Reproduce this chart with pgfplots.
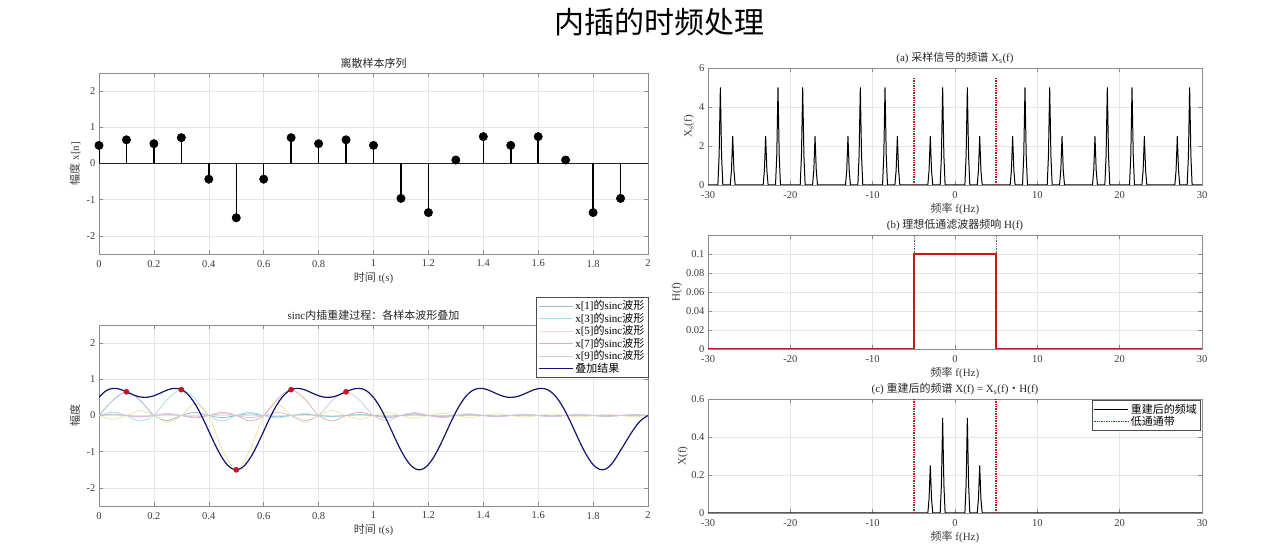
\documentclass[border=0pt]{standalone}
\usepackage{fontspec}
\setmainfont{Liberation Serif}
\newfontfamily\cjk{Noto Sans CJK SC}
\usepackage{pgfplots}
\pgfplotsset{compat=1.18}
\definecolor{axc}{RGB}{140,140,140}
\definecolor{gridc}{RGB}{230,230,230}
\definecolor{labc}{RGB}{60,60,60}
\definecolor{s1}{RGB}{160,182,204}
\definecolor{s3}{RGB}{160,226,232}
\definecolor{s5}{RGB}{240,228,166}
\definecolor{s7}{RGB}{222,176,176}
\definecolor{s9}{RGB}{214,196,230}
\definecolor{navy}{RGB}{20,20,110}
\definecolor{rdot}{RGB}{200,20,35}
\definecolor{hred}{RGB}{200,25,25}
\pgfplotsset{
  mat/.style={
    scale only axis,
    axis line style={draw=axc, line width=0.6pt},
    every tick/.style={draw=axc, line width=0.5pt},
    tick align=inside,
    major tick length=4pt,
    grid=major,
    major grid style={draw=gridc, line width=0.5pt},
    tick label style={font=\fontsize{10.5}{12}\selectfont, text=labc},
    xticklabel style={yshift=-2.5pt},
    /pgf/number format/assume math mode=true,
    title style={font=\fontsize{11}{12}\selectfont, text=black!85, at={(0.5,1)}, anchor=south, yshift=-3pt, inner sep=1pt},
    xlabel style={font=\fontsize{11}{12}\selectfont, text=labc, at={(0.5,0)}, anchor=center, yshift=-24pt},
    ylabel style={font=\fontsize{11}{12}\selectfont, text=labc, at={(0,0.5)}, anchor=center},
  },
  linelegend/.style={legend image code/.code={\draw[##1] (0pt,0pt) -- (34pt,0pt);}},
}
\begin{document}
\begin{tikzpicture}
\useasboundingbox (0,0) rectangle (1280pt,545pt);
\node at (659pt,523pt) {\cjk\fontsize{30}{32}\selectfont 内插的时频处理};

% ---------------- top-left: stem
\begin{axis}[mat, at={(99pt,291pt)}, anchor=south west, width=549pt, height=181pt,
  xmin=0, xmax=2, ymin=-2.5, ymax=2.5,
  xtick={0,0.2,0.4,0.6,0.8,1,1.2,1.4,1.6,1.8,2}, ytick={-2,-1,0,1,2},
  title={\cjk 离散样本序列},
  xlabel={{\cjk 时间} t(s)},
  ylabel={{\cjk 幅度} x[n]}, ylabel style={yshift=24pt}]
\addplot[black!85, line width=0.7pt] coordinates {(0,0)(2,0)};
\addplot[ycomb, black, line width=1.5pt, mark=*, mark size=4.2pt, mark options={fill=black, line width=0.5pt}] coordinates {
(0,0.5)(0.1,0.6545)(0.2,0.5466)(0.3,0.7135)(0.4,-0.4333)(0.5,-1.5)(0.6,-0.4333)(0.7,0.7135)(0.8,0.5466)(0.9,0.6545)
(1.0,0.5)(1.1,-0.9635)(1.2,-1.3556)(1.3,0.0955)(1.4,0.7423)(1.5,0.5)(1.6,0.7423)(1.7,0.0955)(1.8,-1.3556)(1.9,-0.9635)};
\end{axis}

% ---------------- bottom-left: sinc
\begin{axis}[mat, linelegend, at={(99pt,39pt)}, anchor=south west, width=549pt, height=181pt,
  xmin=0, xmax=2, ymin=-2.5, ymax=2.5,
  xtick={0,0.2,0.4,0.6,0.8,1,1.2,1.4,1.6,1.8,2}, ytick={-2,-1,0,1,2},
  title={sinc{\cjk 内插重建过程：各样本波形叠加}},
  xlabel={{\cjk 时间} t(s)},
  ylabel={\cjk 幅度}, ylabel style={yshift=24pt},
  legend style={at={(1,1.155)}, anchor=north east, draw=black!70, fill=white,
    font=\fontsize{11}{11}\selectfont, inner sep=1.5pt, row sep=-2.3pt, cells={anchor=west}}]
\addplot[s1, line width=0.8pt, smooth] coordinates {
(0,0)(0.05,0.4167)(0.1,0.6545)(0.15,0.4167)(0.2,0)(0.25,-0.1389)(0.3,0)(0.35,0.0833)(0.4,0)(0.45,-0.0595)(0.5,0)
(0.55,0.0463)(0.6,0)(0.65,-0.0379)(0.7,0)(0.75,0.0321)(0.8,0)(0.85,-0.0278)(0.9,0)(0.95,0.0245)(1.0,0)
(1.05,-0.0219)(1.1,0)(1.15,0.0198)(1.2,0)(1.25,-0.0181)(1.3,0)(1.35,0.0167)(1.4,0)(1.45,-0.0154)(1.5,0)
(1.55,0.0144)(1.6,0)(1.65,-0.0134)(1.7,0)(1.75,0.0126)(1.8,0)(1.85,-0.0119)(1.9,0)(1.95,0.0113)(2,0)};
\addlegendentry{x[1]{\cjk 的}sinc{\cjk 波形}}
\addplot[s3, line width=0.8pt, smooth] coordinates {
(0,0)(0.05,0.0908)(0.1,0)(0.15,-0.1514)(0.2,0)(0.25,0.4542)(0.3,0.7135)(0.35,0.4542)(0.4,0)(0.45,-0.1514)(0.5,0)
(0.55,0.0908)(0.6,0)(0.65,-0.0649)(0.7,0)(0.75,0.0504)(0.8,0)(0.85,-0.0413)(0.9,0)(0.95,0.035)(1.0,0)
(1.05,-0.0303)(1.1,0)(1.15,0.0267)(1.2,0)(1.25,-0.0239)(1.3,0)(1.35,0.0216)(1.4,0)(1.45,-0.0198)(1.5,0)
(1.55,0.0182)(1.6,0)(1.65,-0.0168)(1.7,0)(1.75,0.0157)(1.8,0)(1.85,-0.0146)(1.9,0)(1.95,0.0138)(2,0)};
\addlegendentry{x[3]{\cjk 的}sinc{\cjk 波形}}
\addplot[s5, line width=0.8pt, smooth] coordinates {
(0,0)(0.05,-0.1061)(0.1,0)(0.15,0.1364)(0.2,0)(0.25,-0.191)(0.3,0)(0.35,0.3183)(0.4,0)(0.45,-0.9549)(0.5,-1.5)
(0.55,-0.9549)(0.6,0)(0.65,0.3183)(0.7,0)(0.75,-0.191)(0.8,0)(0.85,0.1364)(0.9,0)(0.95,-0.1061)(1.0,0)
(1.05,0.0868)(1.1,0)(1.15,-0.0735)(1.2,0)(1.25,0.0636)(1.3,0)(1.35,-0.0561)(1.4,0)(1.45,0.0503)(1.5,0)
(1.55,-0.0455)(1.6,0)(1.65,0.0415)(1.7,0)(1.75,-0.0382)(1.8,0)(1.85,0.0354)(1.9,0)(1.95,-0.033)(2,0)};
\addlegendentry{x[5]{\cjk 的}sinc{\cjk 波形}}
\addplot[s7, line width=0.8pt, smooth] coordinates {
(0,0)(0.05,0.035)(0.1,0)(0.15,-0.0413)(0.2,0)(0.25,0.0504)(0.3,0)(0.35,-0.0649)(0.4,0)(0.45,0.0908)(0.5,0)
(0.55,-0.1514)(0.6,0)(0.65,0.4542)(0.7,0.7135)(0.75,0.4542)(0.8,0)(0.85,-0.1514)(0.9,0)(0.95,0.0908)(1.0,0)
(1.05,-0.0649)(1.1,0)(1.15,0.0504)(1.2,0)(1.25,-0.0413)(1.3,0)(1.35,0.035)(1.4,0)(1.45,-0.0303)(1.5,0)
(1.55,0.0267)(1.6,0)(1.65,-0.0239)(1.7,0)(1.75,0.0216)(1.8,0)(1.85,-0.0198)(1.9,0)(1.95,0.0182)(2,0)};
\addlegendentry{x[7]{\cjk 的}sinc{\cjk 波形}}
\addplot[s9, line width=0.8pt, smooth] coordinates {
(0,0)(0.05,0.0245)(0.1,0)(0.15,-0.0278)(0.2,0)(0.25,0.0321)(0.3,0)(0.35,-0.0379)(0.4,0)(0.45,0.0463)(0.5,0)
(0.55,-0.0595)(0.6,0)(0.65,0.0833)(0.7,0)(0.75,-0.1389)(0.8,0)(0.85,0.4167)(0.9,0.6545)(0.95,0.4167)(1.0,0)
(1.05,-0.1389)(1.1,0)(1.15,0.0833)(1.2,0)(1.25,-0.0595)(1.3,0)(1.35,0.0463)(1.4,0)(1.45,-0.0379)(1.5,0)
(1.55,0.0321)(1.6,0)(1.65,-0.0278)(1.7,0)(1.75,0.0245)(1.8,0)(1.85,-0.0219)(1.9,0)(1.95,0.0198)(2,0)};
\addlegendentry{x[9]{\cjk 的}sinc{\cjk 波形}}
\addplot[navy, line width=1.2pt, smooth] coordinates {
(0.0000,0.5)(0.0167,0.6319)(0.0333,0.7135)(0.0500,0.7479)(0.0667,0.7423)(0.0833,0.7071)(0.1000,0.6545)(0.1167,0.5971)
(0.1333,0.5466)(0.1500,0.5122)(0.1667,0.5)(0.1833,0.5122)(0.2000,0.5466)(0.2167,0.5971)(0.2333,0.6545)(0.2500,0.7071)
(0.2667,0.7423)(0.2833,0.7479)(0.3000,0.7135)(0.3167,0.6319)(0.3333,0.5)(0.3500,0.3191)(0.3667,0.0955)(0.3833,-0.1601)
(0.4000,-0.4333)(0.4167,-0.7071)(0.4333,-0.9635)(0.4500,-1.1849)(0.4667,-1.3556)(0.4833,-1.4632)(0.5000,-1.5)(0.5167,-1.4632)
(0.5333,-1.3556)(0.5500,-1.1849)(0.5667,-0.9635)(0.5833,-0.7071)(0.6000,-0.4333)(0.6167,-0.1601)(0.6333,0.0955)(0.6500,0.3191)
(0.6667,0.5)(0.6833,0.6319)(0.7000,0.7135)(0.7167,0.7479)(0.7333,0.7423)(0.7500,0.7071)(0.7667,0.6545)(0.7833,0.5971)
(0.8000,0.5466)(0.8167,0.5122)(0.8333,0.5)(0.8500,0.5122)(0.8667,0.5466)(0.8833,0.5971)(0.9000,0.6545)(0.9167,0.7071)
(0.9333,0.7423)(0.9500,0.7479)(0.9667,0.7135)(0.9833,0.6319)(1.0000,0.5)(1.0167,0.3191)(1.0333,0.0955)(1.0500,-0.1601)
(1.0667,-0.4333)(1.0833,-0.7071)(1.1000,-0.9635)(1.1167,-1.1849)(1.1333,-1.3556)(1.1500,-1.4632)(1.1667,-1.5)(1.1833,-1.4632)
(1.2000,-1.3556)(1.2167,-1.1849)(1.2333,-0.9635)(1.2500,-0.7071)(1.2667,-0.4333)(1.2833,-0.1601)(1.3000,0.0955)(1.3167,0.3191)
(1.3333,0.5)(1.3500,0.6319)(1.3667,0.7135)(1.3833,0.7479)(1.4000,0.7423)(1.4167,0.7071)(1.4333,0.6545)(1.4500,0.5971)
(1.4667,0.5466)(1.4833,0.5122)(1.5000,0.5)(1.5167,0.5122)(1.5333,0.5466)(1.5500,0.5971)(1.5667,0.6545)(1.5833,0.7071)
(1.6000,0.7423)(1.6167,0.7479)(1.6333,0.7135)(1.6500,0.6319)(1.6667,0.5)(1.6833,0.3191)(1.7000,0.0955)(1.7167,-0.1601)
(1.7333,-0.4333)(1.7500,-0.7071)(1.7667,-0.9635)(1.7833,-1.1849)(1.8000,-1.3556)(1.8167,-1.4632)(1.8333,-1.5)(1.8500,-1.4632)
(1.8667,-1.35)(1.8833,-1.17)(1.9000,-0.9635)(1.9167,-0.76)(1.9333,-0.55)(1.9500,-0.36)(1.9667,-0.19)(1.9833,-0.08)(2.0000,0)};
\addlegendentry{\cjk 叠加结果}
\addplot[only marks, mark=*, mark size=2.6pt, color=rdot, forget plot] coordinates {
(0.1,0.6545)(0.3,0.7135)(0.5,-1.5)(0.7,0.7135)(0.9,0.6545)};
\end{axis}

% ---------------- (a) sampled spectrum
\begin{axis}[mat, at={(708pt,360pt)}, anchor=south west, width=494pt, height=117pt,
  xmin=-30, xmax=30, ymin=0, ymax=6,
  xtick={-30,-20,-10,0,10,20,30}, ytick={0,2,4,6},
  title={(a) {\cjk 采样信号的频谱} X\textsubscript{s}(f)},
  xlabel={{\cjk 频率} f(Hz)},
  ylabel={X\textsubscript{s}(f)}, ylabel style={yshift=19pt}]
\addplot[black, line width=1pt] coordinates {(-30,0)
(-28.8,0)(-28.65,1.5)(-28.5,5)(-28.35,1.5)(-28.2,0)
(-27.3,0)(-27.15,0.75)(-27,2.5)(-26.85,0.75)(-26.7,0)
(-23.3,0)(-23.15,0.75)(-23,2.5)(-22.85,0.75)(-22.7,0)
(-21.8,0)(-21.65,1.5)(-21.5,5)(-21.35,1.5)(-21.2,0)
(-18.8,0)(-18.65,1.5)(-18.5,5)(-18.35,1.5)(-18.2,0)
(-17.3,0)(-17.15,0.75)(-17,2.5)(-16.85,0.75)(-16.7,0)
(-13.3,0)(-13.15,0.75)(-13,2.5)(-12.85,0.75)(-12.7,0)
(-11.8,0)(-11.65,1.5)(-11.5,5)(-11.35,1.5)(-11.2,0)
(-8.8,0)(-8.65,1.5)(-8.5,5)(-8.35,1.5)(-8.2,0)
(-7.3,0)(-7.15,0.75)(-7,2.5)(-6.85,0.75)(-6.7,0)
(-3.3,0)(-3.15,0.75)(-3,2.5)(-2.85,0.75)(-2.7,0)
(-1.8,0)(-1.65,1.5)(-1.5,5)(-1.35,1.5)(-1.2,0)
(1.2,0)(1.35,1.5)(1.5,5)(1.65,1.5)(1.8,0)
(2.7,0)(2.85,0.75)(3,2.5)(3.15,0.75)(3.3,0)
(6.7,0)(6.85,0.75)(7,2.5)(7.15,0.75)(7.3,0)
(8.2,0)(8.35,1.5)(8.5,5)(8.65,1.5)(8.8,0)
(11.2,0)(11.35,1.5)(11.5,5)(11.65,1.5)(11.8,0)
(12.7,0)(12.85,0.75)(13,2.5)(13.15,0.75)(13.3,0)
(16.7,0)(16.85,0.75)(17,2.5)(17.15,0.75)(17.3,0)
(18.2,0)(18.35,1.5)(18.5,5)(18.65,1.5)(18.8,0)
(21.2,0)(21.35,1.5)(21.5,5)(21.65,1.5)(21.8,0)
(22.7,0)(22.85,0.75)(23,2.5)(23.15,0.75)(23.3,0)
(26.7,0)(26.85,0.75)(27,2.5)(27.15,0.75)(27.3,0)
(28.2,0)(28.35,1.5)(28.5,5)(28.65,1.5)(28.8,0)
(30,0)};
\addplot[rdot, densely dotted, line width=1.4pt] coordinates {(-5,0)(-5,5.5)};
\addplot[rdot, densely dotted, line width=1.4pt] coordinates {(5,0)(5,5.5)};
\end{axis}

% ---------------- (b) ideal LPF
\begin{axis}[mat, at={(708pt,196pt)}, anchor=south west, width=494pt, height=114pt,
  xmin=-30, xmax=30, ymin=0, ymax=0.12,
  xtick={-30,-20,-10,0,10,20,30}, ytick={0,0.02,0.04,0.06,0.08,0.1},
  scaled y ticks=false,
  yticklabel style={/pgf/number format/fixed, /pgf/number format/precision=2},
  title={(b) {\cjk 理想低通滤波器频响} H(f)},
  xlabel={{\cjk 频率} f(Hz)},
  ylabel={H(f)}, ylabel style={yshift=31pt}]
\addplot[black!60, densely dotted, line width=0.6pt] coordinates {(-5,0)(-5,0.12)};
\addplot[black!60, densely dotted, line width=0.6pt] coordinates {(5,0)(5,0.12)};
\addplot[hred, line width=2.2pt] coordinates {(-30,0)(-5,0)(-5,0.1)(5,0.1)(5,0)(30,0)};
\end{axis}

% ---------------- (c) reconstructed spectrum
\begin{axis}[mat, linelegend, at={(708pt,32pt)}, anchor=south west, width=494pt, height=114pt,
  xmin=-30, xmax=30, ymin=0, ymax=0.6,
  xtick={-30,-20,-10,0,10,20,30}, ytick={0,0.2,0.4,0.6},
  title={(c) {\cjk 重建后的频谱} X(f) = X\textsubscript{s}(f){\cjk •}H(f)},
  xlabel={{\cjk 频率} f(Hz)},
  ylabel={X(f)}, ylabel style={yshift=25pt},
  legend style={at={(0.997,0.99)}, anchor=north east, draw=black!70, fill=white,
    font=\fontsize{11}{11}\selectfont, inner sep=1.5pt, row sep=-2.3pt, cells={anchor=west}}]
\addplot[black, line width=1pt] coordinates {(-30,0)
(-3.3,0)(-3.15,0.075)(-3,0.25)(-2.85,0.075)(-2.7,0)
(-1.8,0)(-1.65,0.15)(-1.5,0.5)(-1.35,0.15)(-1.2,0)
(1.2,0)(1.35,0.15)(1.5,0.5)(1.65,0.15)(1.8,0)
(2.7,0)(2.85,0.075)(3,0.25)(3.15,0.075)(3.3,0)
(30,0)};
\addlegendentry{\cjk 重建后的频域}
\addplot[rdot, densely dotted, line width=1.4pt] coordinates {(-5,0)(-5,0.6)};
\addlegendentry{\cjk 低通通带}
\addplot[rdot, densely dotted, line width=1.4pt, forget plot] coordinates {(5,0)(5,0.6)};
\end{axis}
\end{tikzpicture}
\end{document}
